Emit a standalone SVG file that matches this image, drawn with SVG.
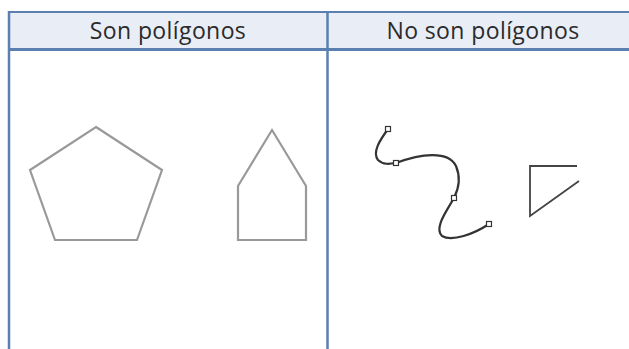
<svg xmlns="http://www.w3.org/2000/svg" width="629" height="349" viewBox="0 0 629 349">
<style>
.hdr{font-family:"Open Sans","Liberation Sans",sans-serif;font-size:23px;letter-spacing:0.4px;fill:#2b2b2b;text-anchor:middle}
.shape{fill:none;stroke:#999;stroke-width:2.2;stroke-linejoin:miter}
.curve{fill:none;stroke:#333;stroke-width:2.2;stroke-linecap:round}
.pt{fill:#fff;stroke:#333;stroke-width:1.2}
.bl{stroke:#5a7fb0;fill:none}
</style>
<rect width="629" height="349" fill="#fff"/>
<g id="table">
<rect x="9" y="12" width="620" height="37" fill="#e9edf6"/>
<line class="bl" x1="9" y1="12" x2="629" y2="12" stroke-width="2"/>
<line class="bl" x1="9" y1="49.5" x2="629" y2="49.5" stroke-width="3"/>
<line class="bl" x1="9" y1="11" x2="9" y2="349" stroke-width="2.5"/>
<line class="bl" x1="327.5" y1="11" x2="327.5" y2="349" stroke-width="2.5"/>
</g>
<g id="header-left"><text class="hdr" x="168" y="39">Son polígonos</text></g>
<g id="header-right"><text class="hdr" x="483" y="39">No son polígonos</text></g>
<g id="pentagon"><polygon class="shape" points="96,127 162,170 137,240 55,240 30,170"/></g>
<g id="house"><polygon class="shape" points="272,130 306,186 306,240 238,240 238,186"/></g>
<g id="curve">
<path class="curve" d="M388,129 C380,140 372,152 378,160 C383,165 390,164 396,163 C420,154 448,150 456,166 C462,180 457,192 454,198 C446,212 434,228 442,236 C452,242 474,234 489,224"/>
<rect class="pt" x="385.5" y="126.5" width="5" height="5"/>
<rect class="pt" x="393.5" y="160.5" width="5" height="5"/>
<rect class="pt" x="451.5" y="195.5" width="5" height="5"/>
<rect class="pt" x="486.5" y="221.5" width="5" height="5"/>
</g>
<g id="open-triangle"><polyline points="577,166 530,166 530,216 579,181" fill="none" stroke="#444" stroke-width="1.8"/></g>
</svg>
